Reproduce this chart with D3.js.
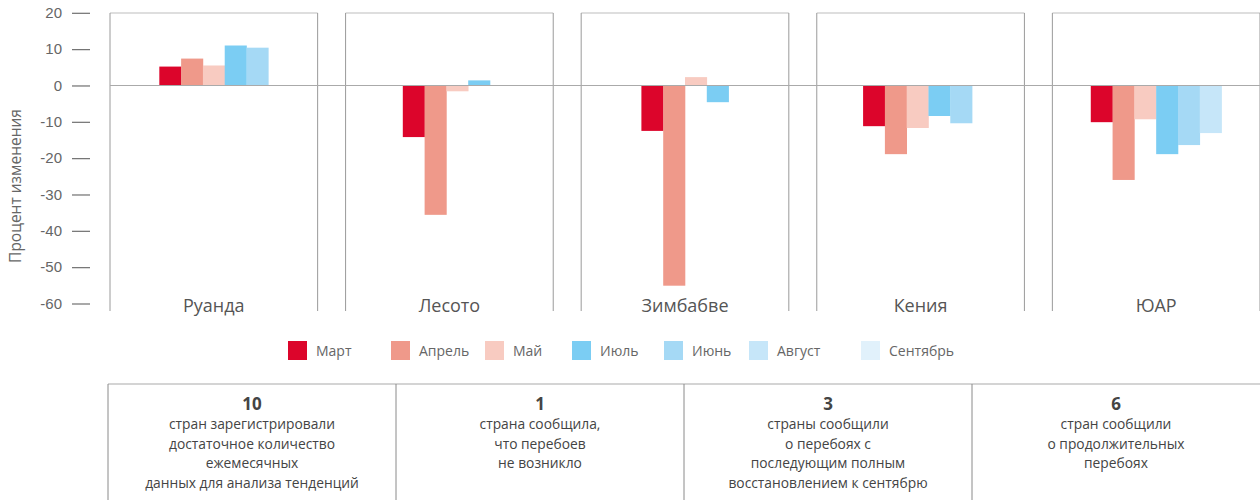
<!DOCTYPE html>
<html>
<head>
<meta charset="utf-8">
<script src="https://cdn.jsdelivr.net/npm/d3@7"></script>
<style>
  body { margin: 0; background: #fff; }
  svg { display: block; font-family: "Open Sans", "Noto Sans", sans-serif; }
</style>
</head>
<body>
<svg id="chart"></svg>
<script>
const countries = ['Руанда', 'Лесото', 'Зимбабве', 'Кения', 'ЮАР'];
const months = ['Март', 'Апрель', 'Май', 'Июль', 'Июнь', 'Август', 'Сентябрь'];
const monthColors = ['#dc052b', '#ef998a', '#f8cbc1', '#7bcdf3', '#a5d9f5', '#c6e6f9', '#e1f1fb'];

// percent change per country, in month order; null = no data
const rwandaValues = [5.2, 7.4, 5.5, 11.0, 10.4, null, null];
const lesothoValues = [-14.2, -35.6, -1.6, 1.4, null, null, null];
const zimbabweValues = [-12.5, -55.1, 2.3, -4.6, null, null, null];
const kenyaValues = [-11.2, -18.9, -11.7, -8.4, -10.4, null, null];
const saValues = [-10.1, -26.0, -9.3, -18.9, -16.4, -13.1, null];
const countryValues = [rwandaValues, lesothoValues, zimbabweValues, kenyaValues, saValues];

const yTicks = [20, 10, 0, -10, -20, -30, -40, -50, -60];

const boxNumbers = ['10', '1', '3', '6'];
const boxTexts = [
    ['стран зарегистрировали', 'достаточное количество', 'ежемесячных', 'данных для анализа тенденций'],
    ['страна сообщила,', 'что перебоев', 'не возникло'],
    ['страны сообщили', 'о перебоях с', 'последующим полным', 'восстановлением к сентябрю'],
    ['стран сообщили', 'о продолжительных', 'перебоях']
];

const WIDTH = 1260;
const HEIGHT = 500;
const PANEL_TOP = 13;
const PANEL_BOTTOM = 311;
const BAR_W = 21.8;

const svg = d3.select('#chart')
    .attr('width', WIDTH)
    .attr('height', HEIGHT);

const yScale = d3.scaleLinear()
    .domain([-60, 20])
    .range([303.5, 12.8]);

const xPanel = d3.scaleBand()
    .domain(countries)
    .range([110, 1260])
    .paddingInner(28 / 236)
    .paddingOuter(0);

// y axis
const yAxis = d3.axisLeft(yScale)
    .tickValues(yTicks)
    .tickSize(18)
    .tickPadding(10)
    .tickFormat(d3.format('d'));

const yG = svg.append('g')
    .attr('transform', 'translate(90,0)')
    .call(yAxis);
yG.select('.domain').remove();
yG.selectAll('.tick line').attr('stroke', '#6f6f6f').attr('stroke-width', 1.2);
yG.selectAll('.tick text')
    .attr('fill', '#666')
    .style('font-size', '15px')
    .text(d => d < 0 ? '-' + Math.abs(d) : d);

svg.append('text')
    .attr('transform', 'translate(21,186) rotate(-90)')
    .attr('text-anchor', 'middle')
    .attr('fill', '#666')
    .style('font-size', '15.5px')
    .text('Процент изменения');

// panels
const panels = svg.selectAll('.panel')
    .data(countries)
    .join('g')
    .attr('class', 'panel')
    .attr('transform', d => 'translate(' + xPanel(d) + ',0)');

panels.append('line')
    .attr('x1', 0).attr('x2', xPanel.bandwidth())
    .attr('y1', PANEL_TOP).attr('y2', PANEL_TOP)
    .attr('stroke', '#bdbdbd').attr('stroke-width', 1.2);
panels.append('line')
    .attr('x1', 0).attr('x2', 0)
    .attr('y1', PANEL_TOP).attr('y2', PANEL_BOTTOM)
    .attr('stroke', '#9a9a9a').attr('stroke-width', 1);
panels.append('line')
    .attr('x1', xPanel.bandwidth()).attr('x2', xPanel.bandwidth())
    .attr('y1', PANEL_TOP).attr('y2', PANEL_BOTTOM)
    .attr('stroke', '#9a9a9a').attr('stroke-width', 1);

// bars: only the months with data, centred in each panel
panels.each(function (country, ci) {
    const rows = months
        .map((m, i) => ({ month: m, value: countryValues[ci][i], color: monthColors[i] }))
        .filter(r => r.value !== null);
    const mid = xPanel.bandwidth() / 2 - (ci === 1 || ci === 3 ? 3 : 0);
    const xBar = d3.scaleBand()
        .domain(rows.map(r => r.month))
        .range([mid - rows.length * BAR_W / 2, mid + rows.length * BAR_W / 2]);
    d3.select(this).selectAll('rect')
        .data(rows)
        .join('rect')
        .attr('x', r => xBar(r.month))
        .attr('width', xBar.bandwidth() + 0.3)
        .attr('y', r => yScale(Math.max(0, r.value)))
        .attr('height', r => Math.abs(yScale(r.value) - yScale(0)))
        .attr('fill', r => r.color);
});

panels.append('text')
    .attr('x', xPanel.bandwidth() / 2)
    .attr('y', 312)
    .attr('text-anchor', 'middle')
    .attr('fill', '#555')
    .style('font-size', '18px')
    .text(d => d);

// zero line
svg.append('line')
    .attr('x1', 110).attr('x2', WIDTH)
    .attr('y1', yScale(0)).attr('y2', yScale(0))
    .attr('stroke', '#aaa').attr('stroke-width', 1.2);

// legend
const legendX = [288, 391, 485, 572, 664, 749, 861];
const legend = svg.selectAll('.legend')
    .data(months)
    .join('g')
    .attr('class', 'legend')
    .attr('transform', (d, i) => 'translate(' + legendX[i] + ',341)');
legend.append('rect')
    .attr('width', 19).attr('height', 19)
    .attr('fill', (d, i) => monthColors[i]);
legend.append('text')
    .attr('x', 28).attr('y', 15)
    .attr('fill', '#666')
    .style('font-size', '14px')
    .text(d => d);

// summary boxes
const boxScale = d3.scaleBand()
    .domain(d3.range(4))
    .range([108, 1260]);

svg.append('line')
    .attr('x1', 108).attr('x2', WIDTH)
    .attr('y1', 384).attr('y2', 384)
    .attr('stroke', '#aaa').attr('stroke-width', 1.2);

const boxes = svg.selectAll('.box')
    .data(boxNumbers)
    .join('g')
    .attr('class', 'box')
    .attr('transform', (d, i) => 'translate(' + boxScale(i) + ',0)');
boxes.append('line')
    .attr('x1', 0).attr('x2', 0)
    .attr('y1', 384).attr('y2', HEIGHT)
    .attr('stroke', '#8a8a8a').attr('stroke-width', 1);
boxes.append('text')
    .attr('x', boxScale.bandwidth() / 2)
    .attr('y', 410)
    .attr('text-anchor', 'middle')
    .attr('fill', '#444')
    .style('font-size', '17px')
    .style('font-weight', 'bold')
    .text(d => d);
boxes.each(function (d, i) {
    d3.select(this).selectAll('.line')
        .data(boxTexts[i])
        .join('text')
        .attr('class', 'line')
        .attr('x', boxScale.bandwidth() / 2)
        .attr('y', (t, j) => 429 + j * 19.5)
        .attr('text-anchor', 'middle')
        .attr('fill', '#444')
        .style('font-size', '13.8px')
        .text(t => t);
});
</script>
</body>
</html>
